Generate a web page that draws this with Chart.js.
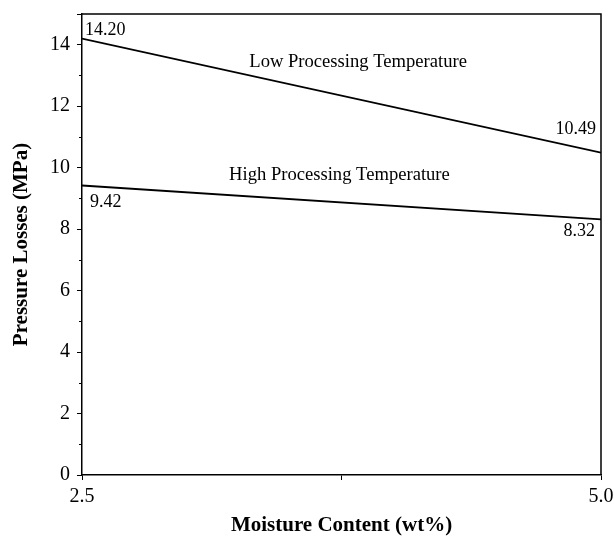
<!DOCTYPE html>
<html>
<head>
<meta charset="utf-8">
<script src="https://cdn.jsdelivr.net/npm/chart.js@4.4.0/dist/chart.umd.min.js"></script>
<style>
  html, body { margin: 0; padding: 0; background: #fff; }
  #wrap { width: 614px; height: 538px; }
</style>
</head>
<body>
<div id="wrap"><canvas id="losses"></canvas></div>
<script>
// Pressure losses vs moisture content
const moisture = [2.5, 5.0];
const lowTemp = [14.20, 10.49];
const highTemp = [9.42, 8.32];
const seriesNames = ['Low Processing Temperature', 'High Processing Temperature'];
const xTickValues = [2.5, 3.75, 5.0];

const serif = "'Liberation Serif', 'Times New Roman', serif";

// frame, minor ticks, point labels, curve names
const decorations = {
  id: 'decorations',
  afterDatasetsDraw(chart) {
    const ctx = chart.ctx;
    const area = chart.chartArea;
    const x = chart.scales.x;
    const y = chart.scales.y;
    ctx.save();
    ctx.strokeStyle = '#000';
    ctx.lineWidth = 1.5;
    ctx.beginPath();
    ctx.moveTo(area.left, area.top);
    ctx.lineTo(area.right, area.top);
    ctx.lineTo(area.right, area.bottom);
    ctx.stroke();

    ctx.lineWidth = 1;
    ctx.beginPath();
    for (let v = 1; v < y.max; v += 2) {
      const py = Math.round(y.getPixelForValue(v)) + 0.5;
      ctx.moveTo(area.left - 3, py);
      ctx.lineTo(area.left, py);
    }
    ctx.stroke();

    ctx.fillStyle = '#000';
    ctx.textBaseline = 'middle';
    chart.data.datasets.forEach(function (ds, i) {
      const meta = chart.getDatasetMeta(i);
      ctx.font = '18px ' + serif;
      meta.data.forEach(function (pt, j) {
        const off = ds.labelOffsets[j];
        ctx.textAlign = j === 0 ? 'left' : 'right';
        ctx.fillText(ds.data[j].y.toFixed(2), pt.x + off[0], pt.y + off[1]);
      });
      ctx.font = '18.6px ' + serif;
      ctx.textAlign = 'center';
      ctx.fillText(ds.label, x.getPixelForValue(ds.namePos[0]), y.getPixelForValue(ds.namePos[1]));
    });
    ctx.restore();
  }
};

const ctx = document.getElementById('losses').getContext('2d');
const lossChart = new Chart(ctx, {
  type: 'line',
  data: {
    datasets: [{
        label: seriesNames[0],
        data: moisture.map((m, i) => ({ x: m, y: lowTemp[i] })),
        borderColor: '#000',
        borderWidth: 1.8,
        pointRadius: 0,
        labelOffsets: [[3, -8], [-5, -23]],
        namePos: [3.83, 13.44]
      },
      {
        label: seriesNames[1],
        data: moisture.map((m, i) => ({ x: m, y: highTemp[i] })),
        borderColor: '#000',
        borderWidth: 1.8,
        pointRadius: 0,
        labelOffsets: [[8, 17], [-6, 12]],
        namePos: [3.74, 9.76]
      }
    ]
  },
  options: {
    responsive: true,
    maintainAspectRatio: false,
    animation: false,
    layout: {
      padding: { left: 0, right: 13, top: 14, bottom: 0 }
    },
    scales: {
      x: {
        type: 'linear',
        min: 2.5,
        max: 5.0,
        afterBuildTicks: function (scale) {
          scale.ticks = xTickValues.map(v => ({ value: v }));
        },
        afterFit: function (scale) {
          scale.height = 63;
          scale.paddingLeft = 0;
          scale.paddingRight = 0;
        },
        ticks: {
          color: '#000',
          padding: 5,
          maxRotation: 0,
          font: { family: serif, size: 20 },
          callback: function (v) {
            return v === 3.75 ? '' : v.toFixed(1);
          }
        },
        grid: {
          drawOnChartArea: false,
          drawTicks: true,
          tickLength: 5,
          tickColor: '#000'
        },
        border: { color: '#000', width: 1.5 },
        title: {
          display: true,
          text: 'Moisture Content (wt%)',
          color: '#000',
          font: { family: serif, size: 21, weight: 'bold' },
          padding: { top: 0, bottom: 0 }
        }
      },
      y: {
        min: 0,
        max: 15,
        afterFit: function (scale) {
          scale.width = 82;
          scale.paddingTop = 0;
          scale.paddingBottom = 0;
        },
        ticks: {
          stepSize: 2,
          color: '#000',
          padding: 7,
          font: { family: serif, size: 20 },
          callback: function (v) {
            return v % 2 === 0 ? v : '';
          }
        },
        grid: {
          drawOnChartArea: false,
          drawTicks: true,
          tickLength: 5,
          tickColor: '#000'
        },
        border: { color: '#000', width: 1.5 },
        title: {
          display: true,
          text: 'Pressure Losses (MPa)',
          color: '#000',
          font: { family: serif, size: 21, weight: 'bold' },
          padding: { top: 9, bottom: 0 }
        }
      }
    },
    plugins: {
      legend: false,
      tooltip: { enabled: false }
    }
  },
  plugins: [decorations]
});
</script>
</body>
</html>
